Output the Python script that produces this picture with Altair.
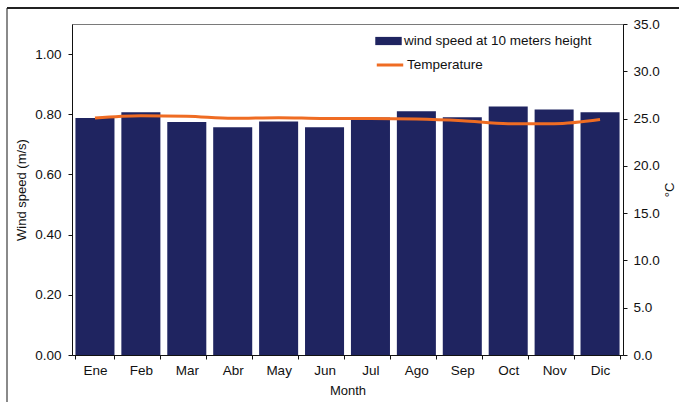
import altair as alt
import pandas as pd

months = ["Ene", "Feb", "Mar", "Abr", "May", "Jun", "Jul", "Ago", "Sep", "Oct", "Nov", "Dic"]
wind_speed = [0.788, 0.807, 0.774, 0.757, 0.776, 0.757, 0.789, 0.810, 0.790, 0.826, 0.816, 0.807]
temperature = [25.06, 25.30, 25.25, 25.03, 25.10, 25.00, 25.00, 24.95, 24.77, 24.46, 24.46, 24.90]
BAR_LABEL = "wind speed at 10 meters height"
LINE_LABEL = "Temperature"

df = pd.DataFrame({
    "Month": months,
    "wind": wind_speed,
    "temp": temperature,
    "bar_series": BAR_LABEL,
    "line_series": LINE_LABEL,
})

FONT = "Liberation Sans"
NAVY = "#1f2460"
ORANGE = "#ef6c23"

x_enc = alt.X(
    "Month:N",
    sort=months,
    scale=alt.Scale(paddingInner=0.15, paddingOuter=0.075),
    axis=alt.Axis(
        title="Month", labelAngle=0, tickBand="extent", tickSize=4,
        labelPadding=4, titlePadding=8, labelFontSize=13.5, titleFontSize=13,
    ),
)

bars = alt.Chart(df).mark_bar().encode(
    x=x_enc,
    y=alt.Y(
        "wind:Q",
        scale=alt.Scale(domain=[0, 1.1], nice=False, zero=True),
        axis=alt.Axis(
            title="Wind speed (m/s)", values=[0, 0.2, 0.4, 0.6, 0.8, 1.0], format=".2f",
            tickSize=4, labelPadding=7, titlePadding=6, labelFontSize=13.5, titleFontSize=13,
            grid=False,
        ),
    ),
    fill=alt.Fill(
        "bar_series:N",
        scale=alt.Scale(domain=[BAR_LABEL], range=[NAVY]),
        legend=alt.Legend(
            title=None, orient="none", legendX=303, legendY=3.5,
            symbolType="M-1,-0.31H1V0.31H-1Z", symbolSize=700, symbolStrokeWidth=0,
            labelFontSize=13.5, labelOffset=2, padding=0, labelLimit=0,
        ),
    ),
)

line = alt.Chart(df).mark_line(strokeWidth=3, interpolate="monotone").encode(
    x=x_enc,
    y=alt.Y(
        "temp:Q",
        scale=alt.Scale(domain=[0, 35], nice=False, zero=True),
        axis=alt.Axis(
            title="°C", orient="right", values=[0, 5, 10, 15, 20, 25, 30, 35], format=".1f",
            tickSize=4, labelPadding=6, titlePadding=17, titleAngle=270,
            labelFontSize=13.5, titleFontSize=13, grid=False,
        ),
    ),
    stroke=alt.Stroke(
        "line_series:N",
        scale=alt.Scale(domain=[LINE_LABEL], range=[ORANGE]),
        legend=alt.Legend(
            title=None, orient="none", legendX=303, legendY=26,
            symbolType="stroke", symbolSize=700, symbolStrokeWidth=3,
            labelFontSize=13.5, labelOffset=2, padding=0, labelLimit=0,
        ),
    ),
)

frame_left = alt.Chart(df).mark_rule(color="#8a8a8a", strokeWidth=1.5).encode(
    x=alt.value(-65), y=alt.value(-16), y2=alt.value(400)
)
frame_top = alt.Chart(df).mark_rule(color="#222222", strokeWidth=1.3).encode(
    x=alt.value(-65), x2=alt.value(700), y=alt.value(-16)
)

chart = (
    alt.layer(bars, line, frame_left, frame_top)
    .resolve_scale(y="independent", fill="independent", stroke="independent")
    .properties(
        width=551, height=331,
        autosize=alt.AutoSizeParams(type="none"),
        padding={"left": 72, "top": 24, "right": 56, "bottom": 47},
        background="white",
    )
    .configure_view(stroke="#7a7a7a", strokeWidth=1)
    .configure_axis(
        labelFont=FONT, titleFont=FONT, labelColor="#111111", titleColor="#111111",
        domainColor="#111111", tickColor="#111111", titleFontWeight="normal",
        domainWidth=1, tickWidth=1,
    )
    .configure_legend(labelFont=FONT, labelColor="#111111")
)

chart.save("out.html", embed_options={"renderer": "svg", "actions": False})
